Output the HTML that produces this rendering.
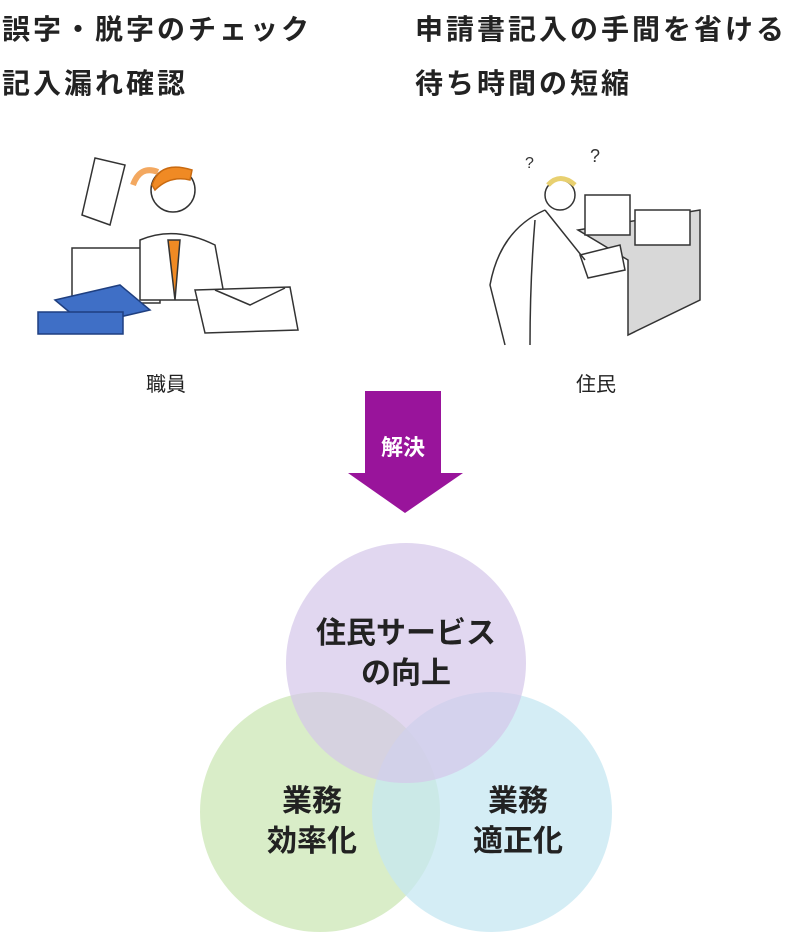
<!DOCTYPE html>
<html><head><meta charset="utf-8"><style>
body{margin:0;width:812px;height:932px;background:#fff;position:relative;overflow:hidden;font-family:"Liberation Sans","Noto Sans CJK JP",sans-serif;color:#222}
.t{position:absolute;font-size:28px;font-weight:bold;white-space:nowrap;letter-spacing:3px}
.l{position:absolute;font-size:20px;white-space:nowrap}
</style></head><body>
<div class="t" style="left:2px;top:8px">誤字・脱字のチェック</div>
<div class="t" style="left:2px;top:62px">記入漏れ確認</div>
<div class="t" style="left:415px;top:8px">申請書記入の手間を省ける</div>
<div class="t" style="left:415px;top:62px">待ち時間の短縮</div>
<svg width="812" height="932" style="position:absolute;left:0;top:0">
<g stroke="#333" stroke-width="1.5" fill="none">
<path d="M95 158 L125 165 L110 225 L82 215 Z" fill="#fff"/>
<rect x="72" y="248" width="88" height="55" fill="#fff"/>
<path d="M140 240 Q175 225 215 245 L225 300 L140 300 Z" fill="#fff"/>
<circle cx="173" cy="190" r="22" fill="#fff"/>
<path d="M152 185 Q160 160 192 170 L190 180 Q170 175 155 190 Z" fill="#f08a24" stroke="#c96a10"/>
<path d="M133 185 Q140 165 158 172" stroke="#f3a860" stroke-width="6"/>
<path d="M168 240 L175 300 L180 240 Z" fill="#f08a24"/>
<path d="M195 290 L290 287 L298 330 L205 333 Z" fill="#fff"/>
<path d="M215 290 L250 305 L285 288" />
</g>
<g fill="#3f6fc6" stroke="#1f3f80" stroke-width="1.5">
<path d="M55 300 L120 285 L150 310 L85 325 Z"/>
<rect x="38" y="312" width="85" height="22"/>
</g>
<g stroke="#333" stroke-width="1.5" fill="none">
<path d="M578 230 L700 210 L700 300 L628 335 L628 260 Z" fill="#d8d8d8"/>
<rect x="585" y="195" width="45" height="40" fill="#fff"/>
<rect x="635" y="210" width="55" height="35" fill="#fff"/>
<path d="M580 255 L620 245 L625 270 L588 278 Z" fill="#fff"/>
<circle cx="560" cy="195" r="15" fill="#fff"/>
<path d="M548 185 Q560 172 575 185" stroke="#e8d070" stroke-width="5"/>
<path d="M545 210 Q500 230 490 285 L505 345 M535 220 Q530 280 530 345 M545 210 Q565 235 585 260"/>
<text x="525" y="168" font-size="16" fill="#333" stroke="none">?</text>
<text x="590" y="162" font-size="18" fill="#333" stroke="none">?</text>
</g>
<path d="M365 391 H441 V473 H463 L405 513 L348 473 H365 Z" fill="#99149b"/>
<text x="403" y="455" font-size="22" font-weight="bold" fill="#fff" text-anchor="middle" font-family="Liberation Sans,Noto Sans CJK JP,sans-serif">解決</text>
<circle cx="320" cy="812" r="120" fill="#cce7b6" opacity="0.75"/>
<circle cx="492" cy="812" r="120" fill="#c6e7f1" opacity="0.75"/>
<circle cx="406" cy="663" r="120" fill="#d4c6ea" opacity="0.7"/>
<g font-size="30" font-weight="bold" fill="#222" text-anchor="middle" font-family="Liberation Sans,Noto Sans CJK JP,sans-serif">
<text x="406" y="643">住民サービス</text>
<text x="406" y="683">の向上</text>
<text x="312" y="811">業務</text>
<text x="312" y="851">効率化</text>
<text x="518" y="811">業務</text>
<text x="518" y="851">適正化</text>
</g>
</svg>
<div class="l" style="left:146px;top:368px">職員</div>
<div class="l" style="left:576px;top:368px">住民</div>
</body></html>
